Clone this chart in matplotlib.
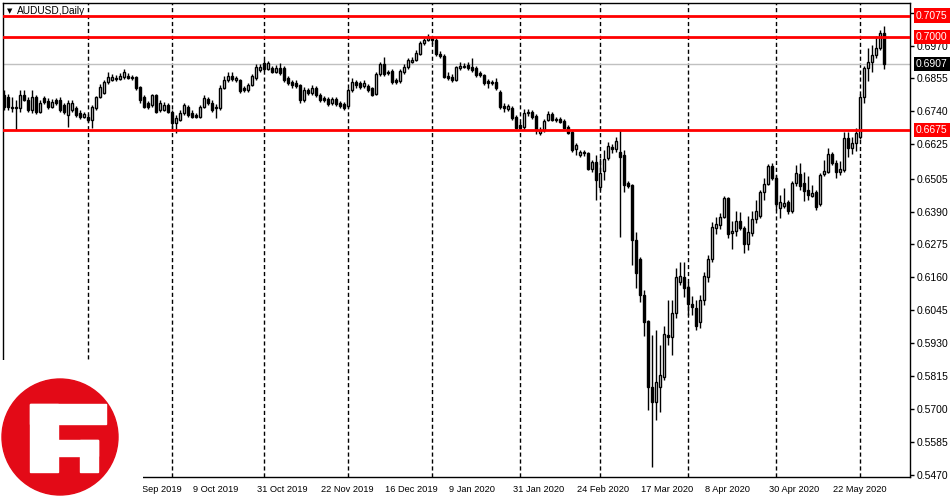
import numpy as np
import pandas as pd
import matplotlib
matplotlib.use('Agg')
import matplotlib.pyplot as plt
from matplotlib import transforms
from matplotlib.patches import Circle, Rectangle

plt.rcParams['font.family'] = ['Liberation Sans', 'DejaVu Sans']

# daily AUDUSD candles, Aug 2 2019 .. Jun 9 2020 (no bars on Dec 25 / Jan 1)
opens = [
    .6797, .6790, .6755, .6755, .6752, .6797, .6780, .6745, .6790, .6738,
    .6787, .6776, .6755, .6780, .6780, .6762, .6727, .6745, .6752, .6734,
    .6720, .6720, .6710, .6752, .6790, .6804, .6843, .6850, .6857, .6853,
    .6860, .6864, .6860, .6860, .6825, .6790, .6769, .6762, .6797, .6745,
    .6745, .6762, .6738, .6699, .6710, .6734, .6755, .6734, .6727, .6720,
    .6755, .6783, .6769, .6755, .6752, .6822, .6850, .6864, .6850, .6850,
    .6822, .6815, .6832, .6857, .6885, .6909, .6888, .6892, .6878, .6892,
    .6892, .6857, .6843, .6839, .6832, .6780, .6815, .6804, .6822, .6797,
    .6787, .6783, .6769, .6783, .6769, .6766, .6759, .6815, .6843, .6839,
    .6829, .6829, .6822, .6801, .6871, .6906, .6878, .6881, .6850, .6846,
    .6878, .6895, .6913, .6920, .6941, .6979, .6990, .6997, .6990, .6941,
    .6934, .6864, .6860, .6850, .6892, .6895, .6902, .6895, .6892, .6874,
    .6867, .6846, .6843, .6843, .6808, .6759, .6748, .6752, .6720, .6692,
    .6685, .6734, .6738, .6724, .6665, .6675, .6710, .6731, .6710, .6713,
    .6706, .6685, .6668, .6609, .6588, .6598, .6595, .6539, .6563, .6476,
    .6532, .6577, .6616, .6609, .6598, .6588, .6490, .6483, .6291, .6224,
    .6098, .6007, .5777, .5724, .5777, .5812, .5959, .5952, .6035, .6144,
    .6161, .6126, .6067, .6053, .6004, .6081, .6161, .6224, .6333, .6343,
    .6371, .6437, .6315, .6322, .6357, .6333, .6277, .6315, .6364, .6374,
    .6458, .6486, .6549, .6507, .6402, .6409, .6423, .6392, .6490, .6521,
    .6490, .6465, .6444, .6458, .6416, .6521, .6528, .6591, .6560, .6528,
    .6535, .6647, .6612, .6630, .6651, .6790, .6892, .6913, .6937, .6962,
    .7014]
highs = [
    .6815, .6801, .6790, .6780, .6815, .6815, .6790, .6815, .6797, .6780,
    .6794, .6787, .6783, .6787, .6790, .6769, .6780, .6780, .6759, .6745,
    .6738, .6731, .6762, .6794, .6836, .6850, .6878, .6871, .6867, .6874,
    .6888, .6874, .6867, .6864, .6829, .6797, .6776, .6801, .6801, .6780,
    .6773, .6769, .6745, .6727, .6745, .6769, .6762, .6745, .6734, .6762,
    .6797, .6790, .6780, .6766, .6832, .6864, .6878, .6878, .6864, .6853,
    .6829, .6839, .6871, .6906, .6906, .6920, .6916, .6899, .6902, .6909,
    .6899, .6864, .6850, .6850, .6836, .6825, .6822, .6832, .6829, .6804,
    .6794, .6790, .6790, .6790, .6776, .6773, .6822, .6857, .6850, .6846,
    .6850, .6836, .6825, .6878, .6913, .6930, .6885, .6888, .6857, .6888,
    .6906, .6927, .6930, .6955, .6986, .6997, .7011, .7004, .6997, .6951,
    .6941, .6878, .6871, .6899, .6913, .6909, .6913, .6927, .6899, .6881,
    .6871, .6853, .6850, .6857, .6815, .6769, .6766, .6759, .6727, .6703,
    .6748, .6748, .6745, .6731, .6685, .6713, .6741, .6738, .6720, .6720,
    .6713, .6692, .6675, .6630, .6605, .6605, .6598, .6570, .6588, .6577,
    .6605, .6633, .6626, .6651, .6675, .6605, .6497, .6486, .6319, .6231,
    .6116, .6011, .5958, .5976, .5923, .5990, .6081, .6081, .6193, .6214,
    .6214, .6144, .6095, .6081, .6098, .6179, .6238, .6353, .6371, .6385,
    .6444, .6441, .6357, .6392, .6388, .6340, .6374, .6392, .6430, .6465,
    .6507, .6556, .6560, .6518, .6448, .6472, .6430, .6497, .6553, .6560,
    .6528, .6514, .6483, .6465, .6525, .6570, .6612, .6598, .6570, .6567,
    .6668, .6668, .6651, .6682, .6801, .6899, .6962, .6972, .7004, .7025,
    .7038]
lows = [
    .6745, .6745, .6738, .6675, .6738, .6776, .6738, .6734, .6731, .6734,
    .6766, .6748, .6752, .6762, .6738, .6731, .6685, .6738, .6720, .6713,
    .6717, .6703, .6682, .6745, .6787, .6801, .6836, .6846, .6846, .6850,
    .6853, .6853, .6850, .6815, .6769, .6752, .6748, .6755, .6734, .6738,
    .6741, .6734, .6671, .6665, .6706, .6727, .6720, .6717, .6717, .6717,
    .6752, .6762, .6738, .6717, .6745, .6818, .6843, .6846, .6843, .6804,
    .6808, .6808, .6829, .6850, .6878, .6881, .6885, .6874, .6874, .6867,
    .6843, .6832, .6822, .6822, .6769, .6773, .6797, .6797, .6790, .6773,
    .6773, .6759, .6762, .6759, .6752, .6745, .6752, .6808, .6822, .6818,
    .6822, .6808, .6794, .6797, .6864, .6864, .6867, .6836, .6836, .6839,
    .6871, .6888, .6909, .6916, .6937, .6972, .6986, .6976, .6934, .6927,
    .6857, .6850, .6843, .6846, .6885, .6892, .6885, .6878, .6860, .6860,
    .6832, .6822, .6832, .6815, .6748, .6738, .6741, .6710, .6678, .6675,
    .6675, .6724, .6713, .6661, .6658, .6668, .6706, .6706, .6703, .6699,
    .6678, .6661, .6598, .6588, .6581, .6584, .6535, .6528, .6430, .6465,
    .6500, .6570, .6595, .6598, .6301, .6458, .6472, .6203, .6123, .6074,
    .5955, .5696, .5497, .5661, .5689, .5801, .5924, .5889, .6018, .6133,
    .6091, .6028, .6028, .5976, .5983, .6063, .6144, .6214, .6312, .6329,
    .6367, .6298, .6259, .6305, .6326, .6245, .6256, .6305, .6350, .6367,
    .6430, .6483, .6500, .6395, .6367, .6402, .6381, .6385, .6479, .6465,
    .6427, .6430, .6441, .6395, .6409, .6514, .6525, .6553, .6507, .6518,
    .6528, .6581, .6591, .6602, .6644, .6769, .6846, .6878, .6927, .6955,
    .6888]
closes = [
    .6755, .6755, .6752, .6752, .6797, .6780, .6745, .6790, .6738, .6769,
    .6773, .6755, .6773, .6769, .6745, .6738, .6769, .6769, .6727, .6720,
    .6731, .6710, .6755, .6790, .6825, .6843, .6860, .6860, .6853, .6864,
    .6878, .6857, .6857, .6822, .6780, .6755, .6755, .6797, .6738, .6769,
    .6762, .6738, .6699, .6717, .6734, .6762, .6727, .6720, .6720, .6755,
    .6787, .6769, .6745, .6752, .6822, .6850, .6864, .6853, .6857, .6811,
    .6815, .6832, .6864, .6895, .6895, .6888, .6909, .6878, .6892, .6874,
    .6850, .6839, .6832, .6829, .6780, .6815, .6804, .6822, .6797, .6780,
    .6780, .6766, .6783, .6766, .6759, .6752, .6815, .6843, .6832, .6825,
    .6839, .6815, .6797, .6871, .6906, .6871, .6874, .6843, .6843, .6881,
    .6895, .6920, .6920, .6944, .6979, .6990, .7000, .6990, .6941, .6934,
    .6860, .6857, .6850, .6895, .6899, .6899, .6892, .6885, .6867, .6867,
    .6839, .6839, .6839, .6822, .6755, .6752, .6759, .6717, .6682, .6682,
    .6734, .6738, .6720, .6675, .6675, .6706, .6731, .6710, .6713, .6703,
    .6682, .6665, .6605, .6623, .6598, .6595, .6539, .6563, .6500, .6525,
    .6574, .6619, .6609, .6637, .6581, .6483, .6479, .6291, .6175, .6098,
    .6004, .5777, .5724, .5794, .5819, .5962, .5952, .6035, .6161, .6165,
    .6123, .6067, .6056, .5990, .6081, .6165, .6224, .6336, .6347, .6371,
    .6437, .6312, .6322, .6357, .6333, .6277, .6319, .6364, .6392, .6458,
    .6486, .6549, .6507, .6416, .6423, .6420, .6392, .6490, .6525, .6479,
    .6462, .6448, .6455, .6406, .6518, .6532, .6591, .6560, .6528, .6539,
    .6647, .6612, .6630, .6665, .6790, .6892, .6913, .6937, .6962, .7014,
    .6907]

levels = [0.7075, 0.7000, 0.6675]
last_price = 0.6907
price_ticks = [0.5470, 0.5585, 0.5700, 0.5815, 0.5930, 0.6045, 0.6160, 0.6275,
               0.6390, 0.6505, 0.6625, 0.6740, 0.6855, 0.6970, 0.7085]
label_days = ['2019-09-17', '2019-10-09', '2019-10-31', '2019-11-22', '2019-12-16',
              '2020-01-09', '2020-01-31', '2020-02-24', '2020-03-17', '2020-04-08',
              '2020-04-30', '2020-05-22']

dates = pd.bdate_range('2019-08-02', '2020-06-09')
dates = dates[~dates.isin(pd.to_datetime(['2019-12-25', '2020-01-01']))]
n = len(closes)
dates = dates[:n]
x = np.arange(n)
o = np.array(opens); h = np.array(highs); l = np.array(lows); c = np.array(closes)
up = c >= o

fig = plt.figure(figsize=(9.5, 5), dpi=100)
ax = fig.add_axes([3/950, 23/500, 907/950, 474/500])

# month separators
for i in range(1, n):
    if dates[i].month != dates[i-1].month:
        ax.axvline(i, color='black', lw=1, ls=(0, (3, 2)), zorder=1)

ax.axhline(last_price, color='#c0c0c0', lw=1, zorder=2)

ax.vlines(x, l, h, color='black', lw=1, zorder=3)
ax.bar(x, np.abs(c - o), bottom=np.minimum(o, c), width=0.62,
       color=np.where(up, 'white', 'black'), edgecolor='black', linewidth=1, zorder=4)

for lv in levels:
    ax.axhline(lv, color='#ff0000', lw=2, zorder=6)

ax.set_xlim(-0.25, 226.5)
ax.set_ylim(0.54624, 0.71188)

ax.yaxis.tick_right()
ax.set_yticks(price_ticks)
ax.set_yticklabels([f'{t:.4f}' for t in price_ticks])
ax.tick_params(axis='y', length=3, width=1, labelsize=7.5, pad=2)

pos = [dates.get_loc(pd.Timestamp(d)) for d in label_days]
ax.set_xticks(pos)
ax.set_xticklabels([f"{pd.Timestamp(d).day} {pd.Timestamp(d).strftime('%b %Y')}" for d in label_days])
ax.tick_params(axis='x', length=0, labelsize=6.7, pad=6)
shift = transforms.ScaledTranslation(-3/100, 0, fig.dpi_scale_trans)
for lab in ax.get_xticklabels():
    lab.set_ha('left')
    lab.set_transform(lab.get_transform() + shift)

for sp in ax.spines.values():
    sp.set_linewidth(1)
    sp.set_color('black')

# price labels on the right
trans = transforms.blended_transform_factory(ax.transAxes, ax.transData)
for lv in levels:
    ax.annotate(f'{lv:.4f}', xy=(1, lv), xycoords=trans, xytext=(6, 0),
                textcoords='offset pixels', va='center', ha='left', fontsize=7.5,
                color='white', annotation_clip=False, zorder=10,
                bbox=dict(boxstyle='square,pad=0.2', fc='#ff0000', ec='none'))
ax.annotate(f'{last_price:.4f}', xy=(1, last_price), xycoords=trans, xytext=(6, 0),
            textcoords='offset pixels', va='center', ha='left', fontsize=7.5,
            color='white', annotation_clip=False, zorder=10,
            bbox=dict(boxstyle='square,pad=0.2', fc='black', ec='none'))

ax.text(0.004, 0.983, '\u25bc', transform=ax.transAxes, fontsize=5,
        va='center', ha='left', family=['DejaVu Sans'])
ax.text(0.015, 0.983, 'AUDUSD,Daily', transform=ax.transAxes, fontsize=7.3,
        va='center', ha='left')

# watermark logo
lg = fig.add_axes([0, 0, 143/950, 140/500], zorder=5)
lg.set_facecolor('white')
for sp in lg.spines.values():
    sp.set_visible(False)
lg.set_xticks([]); lg.set_yticks([])
lg.set_xlim(0, 143); lg.set_ylim(140, 0)
red = '#e30a17'
lg.add_patch(Circle((60, 77), 58, color=red))
lg.add_patch(Rectangle((30, 44), 76, 20, color='white'))
lg.add_patch(Rectangle((30, 44), 28, 68, color='white'))
lg.add_patch(Rectangle((58, 80), 40, 16, color='white'))
lg.add_patch(Rectangle((80, 80), 18, 32, color='white'))

fig.savefig('out.png', dpi=100)
